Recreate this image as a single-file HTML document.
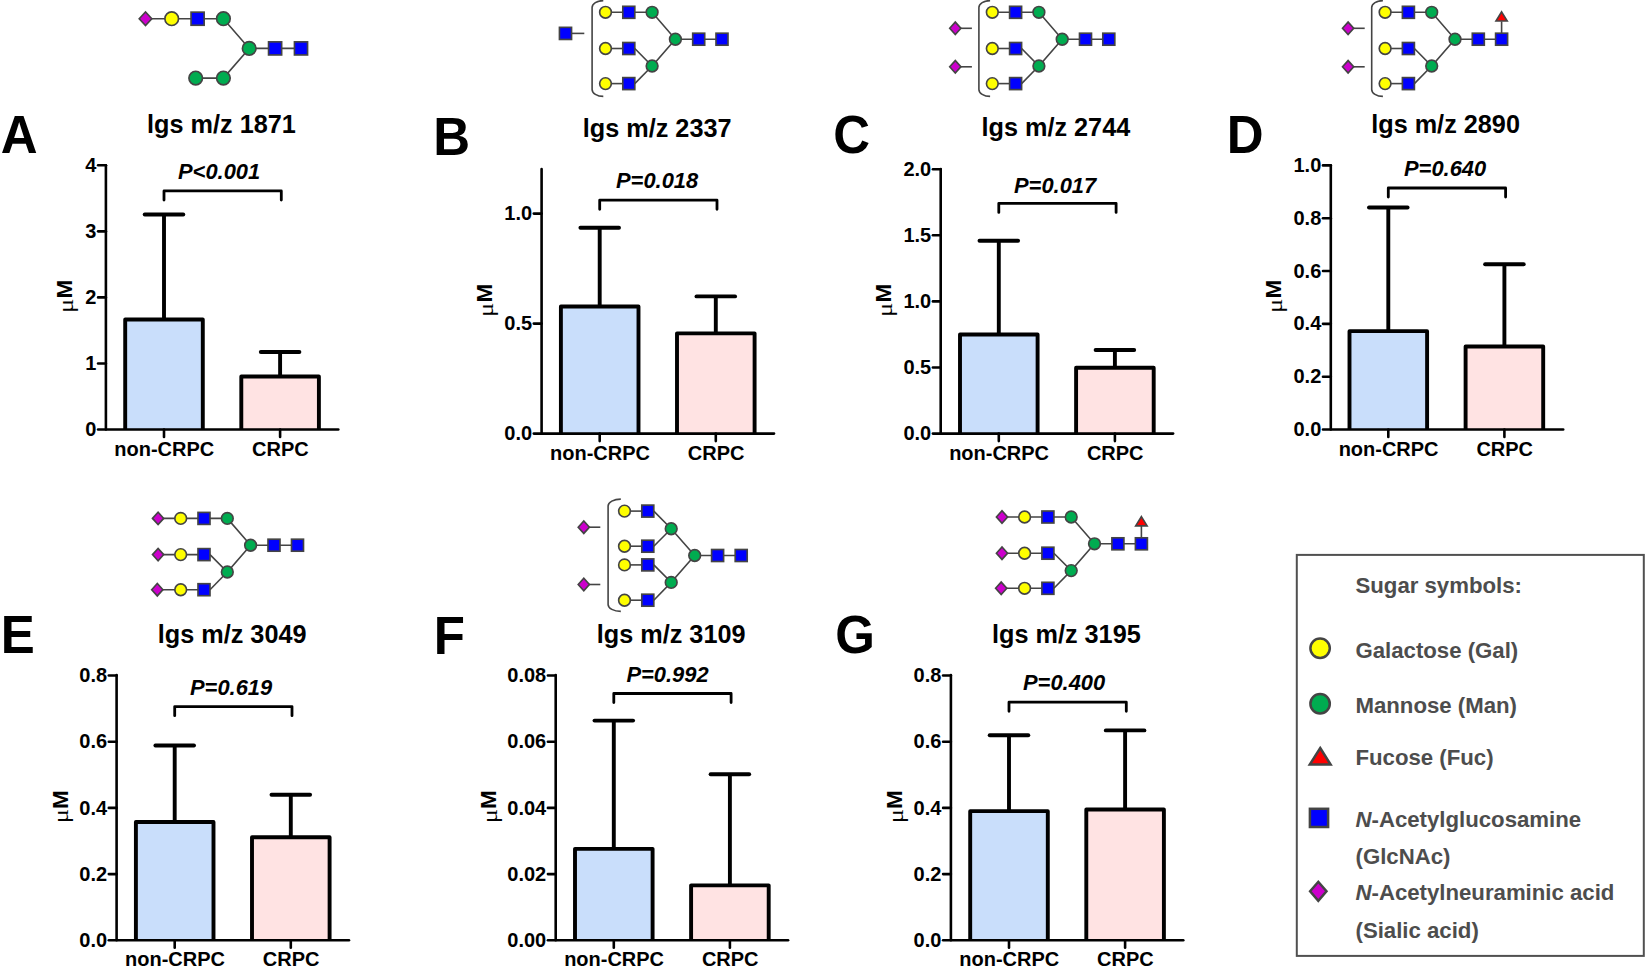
<!DOCTYPE html>
<html lang="en"><head><meta charset="utf-8"><title>Figure</title>
<style>html,body{margin:0;padding:0;background:#fff;}body{width:1645px;height:967px;overflow:hidden;}svg{display:block;}</style>
</head><body>
<svg width="1645" height="967" viewBox="0 0 1645 967" font-family="'Liberation Sans', Arial, Helvetica, sans-serif">
<rect x="0" y="0" width="1645" height="967" fill="#fff"/>
<path d="M145.50 18.70L223.40 18.70L249.20 48.40L301.00 48.40" fill="none" stroke="#444444" stroke-width="1.6"/>
<path d="M195.70 78.10L223.40 78.10L249.20 48.40" fill="none" stroke="#444444" stroke-width="1.6"/>
<path d="M139.20 18.70L145.50 11.90L151.80 18.70L145.50 25.50Z" fill="#CC00CC" stroke="#444444" stroke-width="1.65" stroke-linejoin="miter"/>
<circle cx="171.70" cy="18.70" r="6.80" fill="#FFFF00" stroke="#444444" stroke-width="1.65"/>
<rect x="191.05" y="12.15" width="13.10" height="13.10" fill="#0000FF" stroke="#444444" stroke-width="1.65"/>
<circle cx="223.40" cy="18.70" r="6.80" fill="#00AC50" stroke="#444444" stroke-width="1.65"/>
<circle cx="249.20" cy="48.40" r="6.80" fill="#00AC50" stroke="#444444" stroke-width="1.65"/>
<rect x="268.55" y="41.85" width="13.10" height="13.10" fill="#0000FF" stroke="#444444" stroke-width="1.65"/>
<rect x="294.45" y="41.85" width="13.10" height="13.10" fill="#0000FF" stroke="#444444" stroke-width="1.65"/>
<circle cx="195.70" cy="78.10" r="6.80" fill="#00AC50" stroke="#444444" stroke-width="1.65"/>
<circle cx="223.40" cy="78.10" r="6.80" fill="#00AC50" stroke="#444444" stroke-width="1.65"/>
<path d="M605.50 12.30L652.10 12.30L675.40 39.20L722.00 39.20" fill="none" stroke="#444444" stroke-width="1.6"/>
<path d="M605.50 48.50L628.80 48.50" fill="none" stroke="#444444" stroke-width="1.6"/>
<path d="M634.80 48.50L652.10 66.00L675.40 39.20" fill="none" stroke="#444444" stroke-width="1.6"/>
<path d="M605.50 83.60L628.80 83.60" fill="none" stroke="#444444" stroke-width="1.6"/>
<path d="M634.80 83.60L652.10 66.00" fill="none" stroke="#444444" stroke-width="1.6"/>
<circle cx="605.50" cy="12.30" r="5.85" fill="#FFFF00" stroke="#444444" stroke-width="1.65"/>
<rect x="622.80" y="6.30" width="12.00" height="12.00" fill="#0000FF" stroke="#444444" stroke-width="1.65"/>
<circle cx="605.50" cy="48.50" r="5.85" fill="#FFFF00" stroke="#444444" stroke-width="1.65"/>
<rect x="622.80" y="42.50" width="12.00" height="12.00" fill="#0000FF" stroke="#444444" stroke-width="1.65"/>
<circle cx="605.50" cy="83.60" r="5.85" fill="#FFFF00" stroke="#444444" stroke-width="1.65"/>
<rect x="622.80" y="77.60" width="12.00" height="12.00" fill="#0000FF" stroke="#444444" stroke-width="1.65"/>
<circle cx="652.10" cy="12.30" r="5.85" fill="#00AC50" stroke="#444444" stroke-width="1.65"/>
<circle cx="652.10" cy="66.00" r="5.85" fill="#00AC50" stroke="#444444" stroke-width="1.65"/>
<circle cx="675.40" cy="39.20" r="5.85" fill="#00AC50" stroke="#444444" stroke-width="1.65"/>
<rect x="692.70" y="33.20" width="12.00" height="12.00" fill="#0000FF" stroke="#444444" stroke-width="1.65"/>
<rect x="716.00" y="33.20" width="12.00" height="12.00" fill="#0000FF" stroke="#444444" stroke-width="1.65"/>
<path d="M603.30 0.60C597.11 0.60 592.10 3.73 592.10 7.60L592.10 89.40C592.10 93.27 597.11 96.40 603.30 96.40" fill="none" stroke="#444444" stroke-width="1.6"/>
<line x1="565.50" y1="33.40" x2="584.30" y2="33.40" stroke="#444444" stroke-width="1.6"/>
<rect x="559.45" y="27.35" width="12.10" height="12.10" fill="#0000FF" stroke="#444444" stroke-width="1.65"/>
<path d="M992.30 12.30L1038.90 12.30L1062.20 39.20L1108.80 39.20" fill="none" stroke="#444444" stroke-width="1.6"/>
<path d="M992.30 48.50L1015.60 48.50" fill="none" stroke="#444444" stroke-width="1.6"/>
<path d="M1021.60 48.50L1038.90 66.00L1062.20 39.20" fill="none" stroke="#444444" stroke-width="1.6"/>
<path d="M992.30 83.60L1015.60 83.60" fill="none" stroke="#444444" stroke-width="1.6"/>
<path d="M1021.60 83.60L1038.90 66.00" fill="none" stroke="#444444" stroke-width="1.6"/>
<circle cx="992.30" cy="12.30" r="5.85" fill="#FFFF00" stroke="#444444" stroke-width="1.65"/>
<rect x="1009.60" y="6.30" width="12.00" height="12.00" fill="#0000FF" stroke="#444444" stroke-width="1.65"/>
<circle cx="992.30" cy="48.50" r="5.85" fill="#FFFF00" stroke="#444444" stroke-width="1.65"/>
<rect x="1009.60" y="42.50" width="12.00" height="12.00" fill="#0000FF" stroke="#444444" stroke-width="1.65"/>
<circle cx="992.30" cy="83.60" r="5.85" fill="#FFFF00" stroke="#444444" stroke-width="1.65"/>
<rect x="1009.60" y="77.60" width="12.00" height="12.00" fill="#0000FF" stroke="#444444" stroke-width="1.65"/>
<circle cx="1038.90" cy="12.30" r="5.85" fill="#00AC50" stroke="#444444" stroke-width="1.65"/>
<circle cx="1038.90" cy="66.00" r="5.85" fill="#00AC50" stroke="#444444" stroke-width="1.65"/>
<circle cx="1062.20" cy="39.20" r="5.85" fill="#00AC50" stroke="#444444" stroke-width="1.65"/>
<rect x="1079.50" y="33.20" width="12.00" height="12.00" fill="#0000FF" stroke="#444444" stroke-width="1.65"/>
<rect x="1102.80" y="33.20" width="12.00" height="12.00" fill="#0000FF" stroke="#444444" stroke-width="1.65"/>
<path d="M990.10 0.60C983.91 0.60 978.90 3.73 978.90 7.60L978.90 89.40C978.90 93.27 983.91 96.40 990.10 96.40" fill="none" stroke="#444444" stroke-width="1.6"/>
<line x1="955.30" y1="28.30" x2="971.90" y2="28.30" stroke="#444444" stroke-width="1.6"/>
<path d="M949.70 28.30L955.30 22.10L960.90 28.30L955.30 34.50Z" fill="#CC00CC" stroke="#444444" stroke-width="1.65" stroke-linejoin="miter"/>
<line x1="955.30" y1="66.80" x2="971.90" y2="66.80" stroke="#444444" stroke-width="1.6"/>
<path d="M949.70 66.80L955.30 60.60L960.90 66.80L955.30 73.00Z" fill="#CC00CC" stroke="#444444" stroke-width="1.65" stroke-linejoin="miter"/>
<path d="M1385.10 12.30L1431.70 12.30L1455.00 39.20L1501.60 39.20" fill="none" stroke="#444444" stroke-width="1.6"/>
<path d="M1385.10 48.50L1408.40 48.50" fill="none" stroke="#444444" stroke-width="1.6"/>
<path d="M1414.40 48.50L1431.70 66.00L1455.00 39.20" fill="none" stroke="#444444" stroke-width="1.6"/>
<path d="M1385.10 83.60L1408.40 83.60" fill="none" stroke="#444444" stroke-width="1.6"/>
<path d="M1414.40 83.60L1431.70 66.00" fill="none" stroke="#444444" stroke-width="1.6"/>
<line x1="1501.60" y1="39.20" x2="1501.60" y2="21.40" stroke="#444444" stroke-width="1.6"/>
<path d="M1501.60 11.90L1507.20 21.00L1496.00 21.00Z" fill="#FF0000" stroke="#444444" stroke-width="1.65" stroke-linejoin="miter"/>
<circle cx="1385.10" cy="12.30" r="5.85" fill="#FFFF00" stroke="#444444" stroke-width="1.65"/>
<rect x="1402.40" y="6.30" width="12.00" height="12.00" fill="#0000FF" stroke="#444444" stroke-width="1.65"/>
<circle cx="1385.10" cy="48.50" r="5.85" fill="#FFFF00" stroke="#444444" stroke-width="1.65"/>
<rect x="1402.40" y="42.50" width="12.00" height="12.00" fill="#0000FF" stroke="#444444" stroke-width="1.65"/>
<circle cx="1385.10" cy="83.60" r="5.85" fill="#FFFF00" stroke="#444444" stroke-width="1.65"/>
<rect x="1402.40" y="77.60" width="12.00" height="12.00" fill="#0000FF" stroke="#444444" stroke-width="1.65"/>
<circle cx="1431.70" cy="12.30" r="5.85" fill="#00AC50" stroke="#444444" stroke-width="1.65"/>
<circle cx="1431.70" cy="66.00" r="5.85" fill="#00AC50" stroke="#444444" stroke-width="1.65"/>
<circle cx="1455.00" cy="39.20" r="5.85" fill="#00AC50" stroke="#444444" stroke-width="1.65"/>
<rect x="1472.30" y="33.20" width="12.00" height="12.00" fill="#0000FF" stroke="#444444" stroke-width="1.65"/>
<rect x="1495.60" y="33.20" width="12.00" height="12.00" fill="#0000FF" stroke="#444444" stroke-width="1.65"/>
<path d="M1382.90 0.60C1376.71 0.60 1371.70 3.73 1371.70 7.60L1371.70 89.40C1371.70 93.27 1376.71 96.40 1382.90 96.40" fill="none" stroke="#444444" stroke-width="1.6"/>
<line x1="1348.10" y1="28.30" x2="1364.70" y2="28.30" stroke="#444444" stroke-width="1.6"/>
<path d="M1342.50 28.30L1348.10 22.10L1353.70 28.30L1348.10 34.50Z" fill="#CC00CC" stroke="#444444" stroke-width="1.65" stroke-linejoin="miter"/>
<line x1="1348.10" y1="66.80" x2="1364.70" y2="66.80" stroke="#444444" stroke-width="1.6"/>
<path d="M1342.50 66.80L1348.10 60.60L1353.70 66.80L1348.10 73.00Z" fill="#CC00CC" stroke="#444444" stroke-width="1.65" stroke-linejoin="miter"/>
<path d="M158.10 518.40L227.30 518.40L250.60 545.20L297.50 545.20" fill="none" stroke="#444444" stroke-width="1.6"/>
<path d="M158.10 554.60L204.00 554.60" fill="none" stroke="#444444" stroke-width="1.6"/>
<path d="M210.00 554.60L227.30 572.00L250.60 545.20" fill="none" stroke="#444444" stroke-width="1.6"/>
<path d="M157.30 589.70L204.00 589.70" fill="none" stroke="#444444" stroke-width="1.6"/>
<path d="M210.00 589.70L227.30 572.00" fill="none" stroke="#444444" stroke-width="1.6"/>
<path d="M152.50 518.40L158.10 512.20L163.70 518.40L158.10 524.60Z" fill="#CC00CC" stroke="#444444" stroke-width="1.65" stroke-linejoin="miter"/>
<circle cx="180.70" cy="518.40" r="5.85" fill="#FFFF00" stroke="#444444" stroke-width="1.65"/>
<rect x="198.00" y="512.40" width="12.00" height="12.00" fill="#0000FF" stroke="#444444" stroke-width="1.65"/>
<path d="M152.50 554.60L158.10 548.40L163.70 554.60L158.10 560.80Z" fill="#CC00CC" stroke="#444444" stroke-width="1.65" stroke-linejoin="miter"/>
<circle cx="180.70" cy="554.60" r="5.85" fill="#FFFF00" stroke="#444444" stroke-width="1.65"/>
<rect x="198.00" y="548.60" width="12.00" height="12.00" fill="#0000FF" stroke="#444444" stroke-width="1.65"/>
<path d="M151.70 589.70L157.30 583.50L162.90 589.70L157.30 595.90Z" fill="#CC00CC" stroke="#444444" stroke-width="1.65" stroke-linejoin="miter"/>
<circle cx="180.70" cy="589.70" r="5.85" fill="#FFFF00" stroke="#444444" stroke-width="1.65"/>
<rect x="198.00" y="583.70" width="12.00" height="12.00" fill="#0000FF" stroke="#444444" stroke-width="1.65"/>
<circle cx="227.30" cy="518.40" r="5.85" fill="#00AC50" stroke="#444444" stroke-width="1.65"/>
<circle cx="227.30" cy="572.00" r="5.85" fill="#00AC50" stroke="#444444" stroke-width="1.65"/>
<circle cx="250.60" cy="545.20" r="5.85" fill="#00AC50" stroke="#444444" stroke-width="1.65"/>
<rect x="268.00" y="539.20" width="12.00" height="12.00" fill="#0000FF" stroke="#444444" stroke-width="1.65"/>
<rect x="291.50" y="539.20" width="12.00" height="12.00" fill="#0000FF" stroke="#444444" stroke-width="1.65"/>
<path d="M624.50 511.10L647.80 511.10" fill="none" stroke="#444444" stroke-width="1.6"/>
<path d="M653.80 511.10L671.20 528.70L694.70 555.50L741.20 555.50" fill="none" stroke="#444444" stroke-width="1.6"/>
<path d="M624.50 546.20L647.80 546.20" fill="none" stroke="#444444" stroke-width="1.6"/>
<path d="M653.80 546.20L671.20 528.70" fill="none" stroke="#444444" stroke-width="1.6"/>
<path d="M624.50 564.90L647.80 564.90" fill="none" stroke="#444444" stroke-width="1.6"/>
<path d="M653.80 564.90L671.20 582.40L694.70 555.50" fill="none" stroke="#444444" stroke-width="1.6"/>
<path d="M624.50 600.20L647.80 600.20" fill="none" stroke="#444444" stroke-width="1.6"/>
<path d="M653.80 600.20L671.20 582.40" fill="none" stroke="#444444" stroke-width="1.6"/>
<circle cx="624.50" cy="511.10" r="5.85" fill="#FFFF00" stroke="#444444" stroke-width="1.65"/>
<rect x="641.80" y="505.10" width="12.00" height="12.00" fill="#0000FF" stroke="#444444" stroke-width="1.65"/>
<circle cx="624.50" cy="546.20" r="5.85" fill="#FFFF00" stroke="#444444" stroke-width="1.65"/>
<rect x="641.80" y="540.20" width="12.00" height="12.00" fill="#0000FF" stroke="#444444" stroke-width="1.65"/>
<circle cx="624.50" cy="564.90" r="5.85" fill="#FFFF00" stroke="#444444" stroke-width="1.65"/>
<rect x="641.80" y="558.90" width="12.00" height="12.00" fill="#0000FF" stroke="#444444" stroke-width="1.65"/>
<circle cx="624.50" cy="600.20" r="5.85" fill="#FFFF00" stroke="#444444" stroke-width="1.65"/>
<rect x="641.80" y="594.20" width="12.00" height="12.00" fill="#0000FF" stroke="#444444" stroke-width="1.65"/>
<circle cx="671.20" cy="528.70" r="5.85" fill="#00AC50" stroke="#444444" stroke-width="1.65"/>
<circle cx="671.20" cy="582.40" r="5.85" fill="#00AC50" stroke="#444444" stroke-width="1.65"/>
<circle cx="694.70" cy="555.50" r="5.85" fill="#00AC50" stroke="#444444" stroke-width="1.65"/>
<rect x="711.60" y="549.50" width="12.00" height="12.00" fill="#0000FF" stroke="#444444" stroke-width="1.65"/>
<rect x="735.20" y="549.50" width="12.00" height="12.00" fill="#0000FF" stroke="#444444" stroke-width="1.65"/>
<path d="M620.80 499.10C613.79 499.10 608.10 502.23 608.10 506.10L608.10 604.40C608.10 608.27 613.79 611.40 620.80 611.40" fill="none" stroke="#444444" stroke-width="1.6"/>
<line x1="583.80" y1="527.20" x2="600.30" y2="527.20" stroke="#444444" stroke-width="1.6"/>
<path d="M578.20 527.20L583.80 521.00L589.40 527.20L583.80 533.40Z" fill="#CC00CC" stroke="#444444" stroke-width="1.65" stroke-linejoin="miter"/>
<line x1="583.80" y1="584.50" x2="600.30" y2="584.50" stroke="#444444" stroke-width="1.6"/>
<path d="M578.20 584.50L583.80 578.30L589.40 584.50L583.80 590.70Z" fill="#CC00CC" stroke="#444444" stroke-width="1.65" stroke-linejoin="miter"/>
<path d="M1002.00 517.00L1071.20 517.00L1094.50 543.80L1141.40 543.80" fill="none" stroke="#444444" stroke-width="1.6"/>
<path d="M1002.00 553.20L1047.90 553.20" fill="none" stroke="#444444" stroke-width="1.6"/>
<path d="M1053.90 553.20L1071.20 570.60L1094.50 543.80" fill="none" stroke="#444444" stroke-width="1.6"/>
<path d="M1001.20 588.30L1047.90 588.30" fill="none" stroke="#444444" stroke-width="1.6"/>
<path d="M1053.90 588.30L1071.20 570.60" fill="none" stroke="#444444" stroke-width="1.6"/>
<line x1="1141.40" y1="543.80" x2="1141.40" y2="525.80" stroke="#444444" stroke-width="1.6"/>
<path d="M1141.40 516.60L1147.10 525.80L1135.70 525.80Z" fill="#FF0000" stroke="#444444" stroke-width="1.65" stroke-linejoin="miter"/>
<path d="M996.40 517.00L1002.00 510.80L1007.60 517.00L1002.00 523.20Z" fill="#CC00CC" stroke="#444444" stroke-width="1.65" stroke-linejoin="miter"/>
<circle cx="1024.60" cy="517.00" r="5.85" fill="#FFFF00" stroke="#444444" stroke-width="1.65"/>
<rect x="1041.90" y="511.00" width="12.00" height="12.00" fill="#0000FF" stroke="#444444" stroke-width="1.65"/>
<path d="M996.40 553.20L1002.00 547.00L1007.60 553.20L1002.00 559.40Z" fill="#CC00CC" stroke="#444444" stroke-width="1.65" stroke-linejoin="miter"/>
<circle cx="1024.60" cy="553.20" r="5.85" fill="#FFFF00" stroke="#444444" stroke-width="1.65"/>
<rect x="1041.90" y="547.20" width="12.00" height="12.00" fill="#0000FF" stroke="#444444" stroke-width="1.65"/>
<path d="M995.60 588.30L1001.20 582.10L1006.80 588.30L1001.20 594.50Z" fill="#CC00CC" stroke="#444444" stroke-width="1.65" stroke-linejoin="miter"/>
<circle cx="1024.60" cy="588.30" r="5.85" fill="#FFFF00" stroke="#444444" stroke-width="1.65"/>
<rect x="1041.90" y="582.30" width="12.00" height="12.00" fill="#0000FF" stroke="#444444" stroke-width="1.65"/>
<circle cx="1071.20" cy="517.00" r="5.85" fill="#00AC50" stroke="#444444" stroke-width="1.65"/>
<circle cx="1071.20" cy="570.60" r="5.85" fill="#00AC50" stroke="#444444" stroke-width="1.65"/>
<circle cx="1094.50" cy="543.80" r="5.85" fill="#00AC50" stroke="#444444" stroke-width="1.65"/>
<rect x="1111.90" y="537.80" width="12.00" height="12.00" fill="#0000FF" stroke="#444444" stroke-width="1.65"/>
<rect x="1135.40" y="537.80" width="12.00" height="12.00" fill="#0000FF" stroke="#444444" stroke-width="1.65"/>
<rect x="125.20" y="319.55" width="77.60" height="109.95" fill="#C9DEFB"/>
<path d="M125.20 429.50L125.20 319.55L202.80 319.55L202.80 429.50" fill="none" stroke="#000" stroke-width="3.9" stroke-linejoin="round"/>
<line x1="164.00" y1="214.50" x2="164.00" y2="319.55" stroke="#000" stroke-width="3.9"/>
<line x1="144.70" y1="214.50" x2="183.30" y2="214.50" stroke="#000" stroke-width="3.9" stroke-linecap="round"/>
<line x1="164.00" y1="429.50" x2="164.00" y2="437.00" stroke="#000" stroke-width="2.6" stroke-linecap="round"/>
<text transform="translate(164.30 455.50) scale(1 1.04)" font-size="20" font-weight="bold" text-anchor="middle" fill="#000" >non-CRPC</text>
<rect x="241.30" y="376.45" width="77.60" height="53.05" fill="#FFE3E3"/>
<path d="M241.30 429.50L241.30 376.45L318.90 376.45L318.90 429.50" fill="none" stroke="#000" stroke-width="3.9" stroke-linejoin="round"/>
<line x1="280.10" y1="352.00" x2="280.10" y2="376.45" stroke="#000" stroke-width="3.9"/>
<line x1="260.80" y1="352.00" x2="299.40" y2="352.00" stroke="#000" stroke-width="3.9" stroke-linecap="round"/>
<line x1="280.10" y1="429.50" x2="280.10" y2="437.00" stroke="#000" stroke-width="2.6" stroke-linecap="round"/>
<text transform="translate(280.40 455.50) scale(1 1.04)" font-size="20" font-weight="bold" text-anchor="middle" fill="#000" >CRPC</text>
<line x1="105.90" y1="165.30" x2="105.90" y2="429.50" stroke="#000" stroke-width="2.6" stroke-linecap="round"/>
<line x1="98.10" y1="429.50" x2="338.30" y2="429.50" stroke="#000" stroke-width="2.6" stroke-linecap="round"/>
<text transform="translate(96.40 436.10) scale(1 1.04)" font-size="20" font-weight="bold" text-anchor="end" fill="#000" >0</text>
<line x1="98.10" y1="363.45" x2="105.90" y2="363.45" stroke="#000" stroke-width="2.6" stroke-linecap="round"/>
<text transform="translate(96.40 370.05) scale(1 1.04)" font-size="20" font-weight="bold" text-anchor="end" fill="#000" >1</text>
<line x1="98.10" y1="297.40" x2="105.90" y2="297.40" stroke="#000" stroke-width="2.6" stroke-linecap="round"/>
<text transform="translate(96.40 304.00) scale(1 1.04)" font-size="20" font-weight="bold" text-anchor="end" fill="#000" >2</text>
<line x1="98.10" y1="231.35" x2="105.90" y2="231.35" stroke="#000" stroke-width="2.6" stroke-linecap="round"/>
<text transform="translate(96.40 237.95) scale(1 1.04)" font-size="20" font-weight="bold" text-anchor="end" fill="#000" >3</text>
<line x1="98.10" y1="165.30" x2="105.90" y2="165.30" stroke="#000" stroke-width="2.6" stroke-linecap="round"/>
<text transform="translate(96.40 171.90) scale(1 1.04)" font-size="20" font-weight="bold" text-anchor="end" fill="#000" >4</text>
<text transform="translate(72.20 298.60) rotate(-90) scale(1 1.005)" text-anchor="start" font-size="22.5" font-weight="bold">M</text>
<text transform="translate(72.80 298.80) rotate(-90) scale(1.18 0.96)" text-anchor="end" font-size="22.5" font-family="Liberation Serif, DejaVu Serif, serif" font-weight="normal">μ</text>
<text transform="translate(178.00 179.20) scale(1 1.04)" font-size="21.9" font-weight="bold" font-style="italic" text-anchor="start" fill="#000" >P&lt;0.001</text>
<path d="M164.00 200.00L164.00 190.90L281.30 190.90L281.30 200.00" fill="none" stroke="#000" stroke-width="2.8" stroke-linecap="round" stroke-linejoin="round"/>
<text transform="translate(147.10 132.90) scale(1 1.04)" font-size="25.25" font-weight="bold" text-anchor="start" fill="#000" >lgs m/z 1871</text>
<text transform="translate(0.80 153.20) scale(1 1.04)" font-size="51" font-weight="bold" text-anchor="start" fill="#000" >A</text>
<rect x="560.90" y="306.45" width="77.60" height="127.15" fill="#C9DEFB"/>
<path d="M560.90 433.60L560.90 306.45L638.50 306.45L638.50 433.60" fill="none" stroke="#000" stroke-width="3.9" stroke-linejoin="round"/>
<line x1="599.70" y1="227.80" x2="599.70" y2="306.45" stroke="#000" stroke-width="3.9"/>
<line x1="580.40" y1="227.80" x2="619.00" y2="227.80" stroke="#000" stroke-width="3.9" stroke-linecap="round"/>
<line x1="599.70" y1="433.60" x2="599.70" y2="441.10" stroke="#000" stroke-width="2.6" stroke-linecap="round"/>
<text transform="translate(600.00 459.60) scale(1 1.04)" font-size="20" font-weight="bold" text-anchor="middle" fill="#000" >non-CRPC</text>
<rect x="677.00" y="333.35" width="77.60" height="100.25" fill="#FFE3E3"/>
<path d="M677.00 433.60L677.00 333.35L754.60 333.35L754.60 433.60" fill="none" stroke="#000" stroke-width="3.9" stroke-linejoin="round"/>
<line x1="715.80" y1="296.40" x2="715.80" y2="333.35" stroke="#000" stroke-width="3.9"/>
<line x1="696.50" y1="296.40" x2="735.10" y2="296.40" stroke="#000" stroke-width="3.9" stroke-linecap="round"/>
<line x1="715.80" y1="433.60" x2="715.80" y2="441.10" stroke="#000" stroke-width="2.6" stroke-linecap="round"/>
<text transform="translate(716.10 459.60) scale(1 1.04)" font-size="20" font-weight="bold" text-anchor="middle" fill="#000" >CRPC</text>
<line x1="541.60" y1="169.00" x2="541.60" y2="433.60" stroke="#000" stroke-width="2.6" stroke-linecap="round"/>
<line x1="533.80" y1="433.60" x2="774.00" y2="433.60" stroke="#000" stroke-width="2.6" stroke-linecap="round"/>
<text transform="translate(532.10 440.20) scale(1 1.04)" font-size="20" font-weight="bold" text-anchor="end" fill="#000" >0.0</text>
<line x1="533.80" y1="323.60" x2="541.60" y2="323.60" stroke="#000" stroke-width="2.6" stroke-linecap="round"/>
<text transform="translate(532.10 330.20) scale(1 1.04)" font-size="20" font-weight="bold" text-anchor="end" fill="#000" >0.5</text>
<line x1="533.80" y1="213.60" x2="541.60" y2="213.60" stroke="#000" stroke-width="2.6" stroke-linecap="round"/>
<text transform="translate(532.10 220.20) scale(1 1.04)" font-size="20" font-weight="bold" text-anchor="end" fill="#000" >1.0</text>
<text transform="translate(492.00 302.50) rotate(-90) scale(1 1.005)" text-anchor="start" font-size="22.5" font-weight="bold">M</text>
<text transform="translate(492.60 302.70) rotate(-90) scale(1.18 0.96)" text-anchor="end" font-size="22.5" font-family="Liberation Serif, DejaVu Serif, serif" font-weight="normal">μ</text>
<text transform="translate(616.00 188.30) scale(1 1.04)" font-size="21.9" font-weight="bold" font-style="italic" text-anchor="start" fill="#000" >P=0.018</text>
<path d="M599.70 209.30L599.70 200.20L717.00 200.20L717.00 209.30" fill="none" stroke="#000" stroke-width="2.8" stroke-linecap="round" stroke-linejoin="round"/>
<text transform="translate(582.80 136.90) scale(1 1.04)" font-size="25.25" font-weight="bold" text-anchor="start" fill="#000" >lgs m/z 2337</text>
<text transform="translate(433.30 154.70) scale(1 1.04)" font-size="51" font-weight="bold" text-anchor="start" fill="#000" >B</text>
<rect x="960.00" y="334.45" width="77.60" height="99.15" fill="#C9DEFB"/>
<path d="M960.00 433.60L960.00 334.45L1037.60 334.45L1037.60 433.60" fill="none" stroke="#000" stroke-width="3.9" stroke-linejoin="round"/>
<line x1="998.80" y1="240.70" x2="998.80" y2="334.45" stroke="#000" stroke-width="3.9"/>
<line x1="979.50" y1="240.70" x2="1018.10" y2="240.70" stroke="#000" stroke-width="3.9" stroke-linecap="round"/>
<line x1="998.80" y1="433.60" x2="998.80" y2="441.10" stroke="#000" stroke-width="2.6" stroke-linecap="round"/>
<text transform="translate(999.10 459.60) scale(1 1.04)" font-size="20" font-weight="bold" text-anchor="middle" fill="#000" >non-CRPC</text>
<rect x="1076.10" y="367.75" width="77.60" height="65.85" fill="#FFE3E3"/>
<path d="M1076.10 433.60L1076.10 367.75L1153.70 367.75L1153.70 433.60" fill="none" stroke="#000" stroke-width="3.9" stroke-linejoin="round"/>
<line x1="1114.90" y1="350.00" x2="1114.90" y2="367.75" stroke="#000" stroke-width="3.9"/>
<line x1="1095.60" y1="350.00" x2="1134.20" y2="350.00" stroke="#000" stroke-width="3.9" stroke-linecap="round"/>
<line x1="1114.90" y1="433.60" x2="1114.90" y2="441.10" stroke="#000" stroke-width="2.6" stroke-linecap="round"/>
<text transform="translate(1115.20 459.60) scale(1 1.04)" font-size="20" font-weight="bold" text-anchor="middle" fill="#000" >CRPC</text>
<line x1="940.70" y1="169.00" x2="940.70" y2="433.60" stroke="#000" stroke-width="2.6" stroke-linecap="round"/>
<line x1="932.90" y1="433.60" x2="1173.10" y2="433.60" stroke="#000" stroke-width="2.6" stroke-linecap="round"/>
<text transform="translate(931.20 440.20) scale(1 1.04)" font-size="20" font-weight="bold" text-anchor="end" fill="#000" >0.0</text>
<line x1="932.90" y1="367.50" x2="940.70" y2="367.50" stroke="#000" stroke-width="2.6" stroke-linecap="round"/>
<text transform="translate(931.20 374.10) scale(1 1.04)" font-size="20" font-weight="bold" text-anchor="end" fill="#000" >0.5</text>
<line x1="932.90" y1="301.40" x2="940.70" y2="301.40" stroke="#000" stroke-width="2.6" stroke-linecap="round"/>
<text transform="translate(931.20 308.00) scale(1 1.04)" font-size="20" font-weight="bold" text-anchor="end" fill="#000" >1.0</text>
<line x1="932.90" y1="235.30" x2="940.70" y2="235.30" stroke="#000" stroke-width="2.6" stroke-linecap="round"/>
<text transform="translate(931.20 241.90) scale(1 1.04)" font-size="20" font-weight="bold" text-anchor="end" fill="#000" >1.5</text>
<line x1="932.90" y1="169.20" x2="940.70" y2="169.20" stroke="#000" stroke-width="2.6" stroke-linecap="round"/>
<text transform="translate(931.20 175.80) scale(1 1.04)" font-size="20" font-weight="bold" text-anchor="end" fill="#000" >2.0</text>
<text transform="translate(891.00 302.50) rotate(-90) scale(1 1.005)" text-anchor="start" font-size="22.5" font-weight="bold">M</text>
<text transform="translate(891.60 302.70) rotate(-90) scale(1.18 0.96)" text-anchor="end" font-size="22.5" font-family="Liberation Serif, DejaVu Serif, serif" font-weight="normal">μ</text>
<text transform="translate(1014.00 192.70) scale(1 1.04)" font-size="21.9" font-weight="bold" font-style="italic" text-anchor="start" fill="#000" >P=0.017</text>
<path d="M998.80 212.40L998.80 203.30L1116.10 203.30L1116.10 212.40" fill="none" stroke="#000" stroke-width="2.8" stroke-linecap="round" stroke-linejoin="round"/>
<text transform="translate(981.50 136.20) scale(1 1.04)" font-size="25.25" font-weight="bold" text-anchor="start" fill="#000" >lgs m/z 2744</text>
<text transform="translate(833.30 152.50) scale(1 1.04)" font-size="51" font-weight="bold" text-anchor="start" fill="#000" >C</text>
<rect x="1349.50" y="331.15" width="77.60" height="98.35" fill="#C9DEFB"/>
<path d="M1349.50 429.50L1349.50 331.15L1427.10 331.15L1427.10 429.50" fill="none" stroke="#000" stroke-width="3.9" stroke-linejoin="round"/>
<line x1="1388.30" y1="207.50" x2="1388.30" y2="331.15" stroke="#000" stroke-width="3.9"/>
<line x1="1369.00" y1="207.50" x2="1407.60" y2="207.50" stroke="#000" stroke-width="3.9" stroke-linecap="round"/>
<line x1="1388.30" y1="429.50" x2="1388.30" y2="437.00" stroke="#000" stroke-width="2.6" stroke-linecap="round"/>
<text transform="translate(1388.60 455.50) scale(1 1.04)" font-size="20" font-weight="bold" text-anchor="middle" fill="#000" >non-CRPC</text>
<rect x="1465.60" y="346.55" width="77.60" height="82.95" fill="#FFE3E3"/>
<path d="M1465.60 429.50L1465.60 346.55L1543.20 346.55L1543.20 429.50" fill="none" stroke="#000" stroke-width="3.9" stroke-linejoin="round"/>
<line x1="1504.40" y1="264.20" x2="1504.40" y2="346.55" stroke="#000" stroke-width="3.9"/>
<line x1="1485.10" y1="264.20" x2="1523.70" y2="264.20" stroke="#000" stroke-width="3.9" stroke-linecap="round"/>
<line x1="1504.40" y1="429.50" x2="1504.40" y2="437.00" stroke="#000" stroke-width="2.6" stroke-linecap="round"/>
<text transform="translate(1504.70 455.50) scale(1 1.04)" font-size="20" font-weight="bold" text-anchor="middle" fill="#000" >CRPC</text>
<line x1="1330.80" y1="165.30" x2="1330.80" y2="429.50" stroke="#000" stroke-width="2.6" stroke-linecap="round"/>
<line x1="1323.00" y1="429.50" x2="1563.20" y2="429.50" stroke="#000" stroke-width="2.6" stroke-linecap="round"/>
<text transform="translate(1321.30 436.10) scale(1 1.04)" font-size="20" font-weight="bold" text-anchor="end" fill="#000" >0.0</text>
<line x1="1323.00" y1="376.68" x2="1330.80" y2="376.68" stroke="#000" stroke-width="2.6" stroke-linecap="round"/>
<text transform="translate(1321.30 383.28) scale(1 1.04)" font-size="20" font-weight="bold" text-anchor="end" fill="#000" >0.2</text>
<line x1="1323.00" y1="323.86" x2="1330.80" y2="323.86" stroke="#000" stroke-width="2.6" stroke-linecap="round"/>
<text transform="translate(1321.30 330.46) scale(1 1.04)" font-size="20" font-weight="bold" text-anchor="end" fill="#000" >0.4</text>
<line x1="1323.00" y1="271.04" x2="1330.80" y2="271.04" stroke="#000" stroke-width="2.6" stroke-linecap="round"/>
<text transform="translate(1321.30 277.64) scale(1 1.04)" font-size="20" font-weight="bold" text-anchor="end" fill="#000" >0.6</text>
<line x1="1323.00" y1="218.22" x2="1330.80" y2="218.22" stroke="#000" stroke-width="2.6" stroke-linecap="round"/>
<text transform="translate(1321.30 224.82) scale(1 1.04)" font-size="20" font-weight="bold" text-anchor="end" fill="#000" >0.8</text>
<line x1="1323.00" y1="165.40" x2="1330.80" y2="165.40" stroke="#000" stroke-width="2.6" stroke-linecap="round"/>
<text transform="translate(1321.30 172.00) scale(1 1.04)" font-size="20" font-weight="bold" text-anchor="end" fill="#000" >1.0</text>
<text transform="translate(1281.00 298.60) rotate(-90) scale(1 1.005)" text-anchor="start" font-size="22.5" font-weight="bold">M</text>
<text transform="translate(1281.60 298.80) rotate(-90) scale(1.18 0.96)" text-anchor="end" font-size="22.5" font-family="Liberation Serif, DejaVu Serif, serif" font-weight="normal">μ</text>
<text transform="translate(1404.00 176.30) scale(1 1.04)" font-size="21.9" font-weight="bold" font-style="italic" text-anchor="start" fill="#000" >P=0.640</text>
<path d="M1388.30 197.10L1388.30 188.00L1505.60 188.00L1505.60 197.10" fill="none" stroke="#000" stroke-width="2.8" stroke-linecap="round" stroke-linejoin="round"/>
<text transform="translate(1371.20 132.50) scale(1 1.04)" font-size="25.25" font-weight="bold" text-anchor="start" fill="#000" >lgs m/z 2890</text>
<text transform="translate(1226.80 153.00) scale(1 1.04)" font-size="51" font-weight="bold" text-anchor="start" fill="#000" >D</text>
<rect x="135.90" y="821.95" width="77.60" height="118.35" fill="#C9DEFB"/>
<path d="M135.90 940.30L135.90 821.95L213.50 821.95L213.50 940.30" fill="none" stroke="#000" stroke-width="3.9" stroke-linejoin="round"/>
<line x1="174.70" y1="745.50" x2="174.70" y2="821.95" stroke="#000" stroke-width="3.9"/>
<line x1="155.40" y1="745.50" x2="194.00" y2="745.50" stroke="#000" stroke-width="3.9" stroke-linecap="round"/>
<line x1="174.70" y1="940.30" x2="174.70" y2="947.80" stroke="#000" stroke-width="2.6" stroke-linecap="round"/>
<text transform="translate(175.00 966.30) scale(1 1.04)" font-size="20" font-weight="bold" text-anchor="middle" fill="#000" >non-CRPC</text>
<rect x="252.00" y="837.25" width="77.60" height="103.05" fill="#FFE3E3"/>
<path d="M252.00 940.30L252.00 837.25L329.60 837.25L329.60 940.30" fill="none" stroke="#000" stroke-width="3.9" stroke-linejoin="round"/>
<line x1="290.80" y1="794.80" x2="290.80" y2="837.25" stroke="#000" stroke-width="3.9"/>
<line x1="271.50" y1="794.80" x2="310.10" y2="794.80" stroke="#000" stroke-width="3.9" stroke-linecap="round"/>
<line x1="290.80" y1="940.30" x2="290.80" y2="947.80" stroke="#000" stroke-width="2.6" stroke-linecap="round"/>
<text transform="translate(291.10 966.30) scale(1 1.04)" font-size="20" font-weight="bold" text-anchor="middle" fill="#000" >CRPC</text>
<line x1="116.60" y1="675.10" x2="116.60" y2="940.30" stroke="#000" stroke-width="2.6" stroke-linecap="round"/>
<line x1="108.80" y1="940.30" x2="349.00" y2="940.30" stroke="#000" stroke-width="2.6" stroke-linecap="round"/>
<text transform="translate(107.10 946.90) scale(1 1.04)" font-size="20" font-weight="bold" text-anchor="end" fill="#000" >0.0</text>
<line x1="108.80" y1="874.10" x2="116.60" y2="874.10" stroke="#000" stroke-width="2.6" stroke-linecap="round"/>
<text transform="translate(107.10 880.70) scale(1 1.04)" font-size="20" font-weight="bold" text-anchor="end" fill="#000" >0.2</text>
<line x1="108.80" y1="807.90" x2="116.60" y2="807.90" stroke="#000" stroke-width="2.6" stroke-linecap="round"/>
<text transform="translate(107.10 814.50) scale(1 1.04)" font-size="20" font-weight="bold" text-anchor="end" fill="#000" >0.4</text>
<line x1="108.80" y1="741.70" x2="116.60" y2="741.70" stroke="#000" stroke-width="2.6" stroke-linecap="round"/>
<text transform="translate(107.10 748.30) scale(1 1.04)" font-size="20" font-weight="bold" text-anchor="end" fill="#000" >0.6</text>
<line x1="108.80" y1="675.50" x2="116.60" y2="675.50" stroke="#000" stroke-width="2.6" stroke-linecap="round"/>
<text transform="translate(107.10 682.10) scale(1 1.04)" font-size="20" font-weight="bold" text-anchor="end" fill="#000" >0.8</text>
<text transform="translate(67.50 808.90) rotate(-90) scale(1 1.005)" text-anchor="start" font-size="22.5" font-weight="bold">M</text>
<text transform="translate(68.10 809.10) rotate(-90) scale(1.18 0.96)" text-anchor="end" font-size="22.5" font-family="Liberation Serif, DejaVu Serif, serif" font-weight="normal">μ</text>
<text transform="translate(190.00 694.90) scale(1 1.04)" font-size="21.9" font-weight="bold" font-style="italic" text-anchor="start" fill="#000" >P=0.619</text>
<path d="M174.70 715.70L174.70 706.60L292.00 706.60L292.00 715.70" fill="none" stroke="#000" stroke-width="2.8" stroke-linecap="round" stroke-linejoin="round"/>
<text transform="translate(157.80 643.40) scale(1 1.04)" font-size="25.25" font-weight="bold" text-anchor="start" fill="#000" >lgs m/z 3049</text>
<text transform="translate(0.80 653.20) scale(1 1.04)" font-size="51" font-weight="bold" text-anchor="start" fill="#000" >E</text>
<rect x="575.00" y="848.85" width="77.60" height="91.45" fill="#C9DEFB"/>
<path d="M575.00 940.30L575.00 848.85L652.60 848.85L652.60 940.30" fill="none" stroke="#000" stroke-width="3.9" stroke-linejoin="round"/>
<line x1="613.80" y1="720.60" x2="613.80" y2="848.85" stroke="#000" stroke-width="3.9"/>
<line x1="594.50" y1="720.60" x2="633.10" y2="720.60" stroke="#000" stroke-width="3.9" stroke-linecap="round"/>
<line x1="613.80" y1="940.30" x2="613.80" y2="947.80" stroke="#000" stroke-width="2.6" stroke-linecap="round"/>
<text transform="translate(614.10 966.30) scale(1 1.04)" font-size="20" font-weight="bold" text-anchor="middle" fill="#000" >non-CRPC</text>
<rect x="691.10" y="885.35" width="77.60" height="54.95" fill="#FFE3E3"/>
<path d="M691.10 940.30L691.10 885.35L768.70 885.35L768.70 940.30" fill="none" stroke="#000" stroke-width="3.9" stroke-linejoin="round"/>
<line x1="729.90" y1="774.20" x2="729.90" y2="885.35" stroke="#000" stroke-width="3.9"/>
<line x1="710.60" y1="774.20" x2="749.20" y2="774.20" stroke="#000" stroke-width="3.9" stroke-linecap="round"/>
<line x1="729.90" y1="940.30" x2="729.90" y2="947.80" stroke="#000" stroke-width="2.6" stroke-linecap="round"/>
<text transform="translate(730.20 966.30) scale(1 1.04)" font-size="20" font-weight="bold" text-anchor="middle" fill="#000" >CRPC</text>
<line x1="555.70" y1="675.10" x2="555.70" y2="940.30" stroke="#000" stroke-width="2.6" stroke-linecap="round"/>
<line x1="547.90" y1="940.30" x2="788.10" y2="940.30" stroke="#000" stroke-width="2.6" stroke-linecap="round"/>
<text transform="translate(546.20 946.90) scale(1 1.04)" font-size="20" font-weight="bold" text-anchor="end" fill="#000" >0.00</text>
<line x1="547.90" y1="874.10" x2="555.70" y2="874.10" stroke="#000" stroke-width="2.6" stroke-linecap="round"/>
<text transform="translate(546.20 880.70) scale(1 1.04)" font-size="20" font-weight="bold" text-anchor="end" fill="#000" >0.02</text>
<line x1="547.90" y1="807.90" x2="555.70" y2="807.90" stroke="#000" stroke-width="2.6" stroke-linecap="round"/>
<text transform="translate(546.20 814.50) scale(1 1.04)" font-size="20" font-weight="bold" text-anchor="end" fill="#000" >0.04</text>
<line x1="547.90" y1="741.70" x2="555.70" y2="741.70" stroke="#000" stroke-width="2.6" stroke-linecap="round"/>
<text transform="translate(546.20 748.30) scale(1 1.04)" font-size="20" font-weight="bold" text-anchor="end" fill="#000" >0.06</text>
<line x1="547.90" y1="675.50" x2="555.70" y2="675.50" stroke="#000" stroke-width="2.6" stroke-linecap="round"/>
<text transform="translate(546.20 682.10) scale(1 1.04)" font-size="20" font-weight="bold" text-anchor="end" fill="#000" >0.08</text>
<text transform="translate(496.00 808.90) rotate(-90) scale(1 1.005)" text-anchor="start" font-size="22.5" font-weight="bold">M</text>
<text transform="translate(496.60 809.10) rotate(-90) scale(1.18 0.96)" text-anchor="end" font-size="22.5" font-family="Liberation Serif, DejaVu Serif, serif" font-weight="normal">μ</text>
<text transform="translate(626.40 681.80) scale(1 1.04)" font-size="21.9" font-weight="bold" font-style="italic" text-anchor="start" fill="#000" >P=0.992</text>
<path d="M613.80 702.60L613.80 693.50L731.10 693.50L731.10 702.60" fill="none" stroke="#000" stroke-width="2.8" stroke-linecap="round" stroke-linejoin="round"/>
<text transform="translate(596.80 643.40) scale(1 1.04)" font-size="25.25" font-weight="bold" text-anchor="start" fill="#000" >lgs m/z 3109</text>
<text transform="translate(433.80 654.00) scale(1 1.04)" font-size="51" font-weight="bold" text-anchor="start" fill="#000" >F</text>
<rect x="970.20" y="811.15" width="77.60" height="129.15" fill="#C9DEFB"/>
<path d="M970.20 940.30L970.20 811.15L1047.80 811.15L1047.80 940.30" fill="none" stroke="#000" stroke-width="3.9" stroke-linejoin="round"/>
<line x1="1009.00" y1="735.20" x2="1009.00" y2="811.15" stroke="#000" stroke-width="3.9"/>
<line x1="989.70" y1="735.20" x2="1028.30" y2="735.20" stroke="#000" stroke-width="3.9" stroke-linecap="round"/>
<line x1="1009.00" y1="940.30" x2="1009.00" y2="947.80" stroke="#000" stroke-width="2.6" stroke-linecap="round"/>
<text transform="translate(1009.30 966.30) scale(1 1.04)" font-size="20" font-weight="bold" text-anchor="middle" fill="#000" >non-CRPC</text>
<rect x="1086.30" y="809.45" width="77.60" height="130.85" fill="#FFE3E3"/>
<path d="M1086.30 940.30L1086.30 809.45L1163.90 809.45L1163.90 940.30" fill="none" stroke="#000" stroke-width="3.9" stroke-linejoin="round"/>
<line x1="1125.10" y1="730.40" x2="1125.10" y2="809.45" stroke="#000" stroke-width="3.9"/>
<line x1="1105.80" y1="730.40" x2="1144.40" y2="730.40" stroke="#000" stroke-width="3.9" stroke-linecap="round"/>
<line x1="1125.10" y1="940.30" x2="1125.10" y2="947.80" stroke="#000" stroke-width="2.6" stroke-linecap="round"/>
<text transform="translate(1125.40 966.30) scale(1 1.04)" font-size="20" font-weight="bold" text-anchor="middle" fill="#000" >CRPC</text>
<line x1="950.90" y1="675.10" x2="950.90" y2="940.30" stroke="#000" stroke-width="2.6" stroke-linecap="round"/>
<line x1="943.10" y1="940.30" x2="1183.30" y2="940.30" stroke="#000" stroke-width="2.6" stroke-linecap="round"/>
<text transform="translate(941.40 946.90) scale(1 1.04)" font-size="20" font-weight="bold" text-anchor="end" fill="#000" >0.0</text>
<line x1="943.10" y1="874.10" x2="950.90" y2="874.10" stroke="#000" stroke-width="2.6" stroke-linecap="round"/>
<text transform="translate(941.40 880.70) scale(1 1.04)" font-size="20" font-weight="bold" text-anchor="end" fill="#000" >0.2</text>
<line x1="943.10" y1="807.90" x2="950.90" y2="807.90" stroke="#000" stroke-width="2.6" stroke-linecap="round"/>
<text transform="translate(941.40 814.50) scale(1 1.04)" font-size="20" font-weight="bold" text-anchor="end" fill="#000" >0.4</text>
<line x1="943.10" y1="741.70" x2="950.90" y2="741.70" stroke="#000" stroke-width="2.6" stroke-linecap="round"/>
<text transform="translate(941.40 748.30) scale(1 1.04)" font-size="20" font-weight="bold" text-anchor="end" fill="#000" >0.6</text>
<line x1="943.10" y1="675.50" x2="950.90" y2="675.50" stroke="#000" stroke-width="2.6" stroke-linecap="round"/>
<text transform="translate(941.40 682.10) scale(1 1.04)" font-size="20" font-weight="bold" text-anchor="end" fill="#000" >0.8</text>
<text transform="translate(902.00 808.90) rotate(-90) scale(1 1.005)" text-anchor="start" font-size="22.5" font-weight="bold">M</text>
<text transform="translate(902.60 809.10) rotate(-90) scale(1.18 0.96)" text-anchor="end" font-size="22.5" font-family="Liberation Serif, DejaVu Serif, serif" font-weight="normal">μ</text>
<text transform="translate(1023.00 690.10) scale(1 1.04)" font-size="21.9" font-weight="bold" font-style="italic" text-anchor="start" fill="#000" >P=0.400</text>
<path d="M1009.00 711.30L1009.00 702.20L1126.30 702.20L1126.30 711.30" fill="none" stroke="#000" stroke-width="2.8" stroke-linecap="round" stroke-linejoin="round"/>
<text transform="translate(992.00 643.40) scale(1 1.04)" font-size="25.25" font-weight="bold" text-anchor="start" fill="#000" >lgs m/z 3195</text>
<text transform="translate(835.30 653.20) scale(1 1.04)" font-size="51" font-weight="bold" text-anchor="start" fill="#000" >G</text>
<rect x="1296.8" y="554.9" width="347.0" height="401.0" fill="#fff" stroke="#505050" stroke-width="2.0"/>
<text transform="translate(1355.50 593.30) scale(1 1.03)" font-size="22.2" font-weight="bold" text-anchor="start" fill="#4d4d4d" >Sugar symbols:</text>
<text transform="translate(1355.50 657.50) scale(1 1.03)" font-size="22.2" font-weight="bold" text-anchor="start" fill="#4d4d4d" >Galactose (Gal)</text>
<text transform="translate(1355.50 712.70) scale(1 1.03)" font-size="22.2" font-weight="bold" text-anchor="start" fill="#4d4d4d" >Mannose (Man)</text>
<text transform="translate(1355.50 764.70) scale(1 1.03)" font-size="22.2" font-weight="bold" text-anchor="start" fill="#4d4d4d" >Fucose (Fuc)</text>
<text transform="translate(1355.5 827.4) scale(1 1.03)" font-size="22.2" font-weight="bold" fill="#4d4d4d"><tspan font-style="italic">N</tspan>-Acetylglucosamine</text>
<text transform="translate(1355.50 864.40) scale(1 1.03)" font-size="22.2" font-weight="bold" text-anchor="start" fill="#4d4d4d" >(GlcNAc)</text>
<text transform="translate(1355.5 900.4) scale(1 1.03)" font-size="22.2" font-weight="bold" fill="#4d4d4d"><tspan font-style="italic">N</tspan>-Acetylneuraminic acid</text>
<text transform="translate(1355.50 937.90) scale(1 1.03)" font-size="22.2" font-weight="bold" text-anchor="start" fill="#4d4d4d" >(Sialic acid)</text>
<circle cx="1320.10" cy="648.30" r="9.70" fill="#FFFF00" stroke="#444444" stroke-width="2.5"/>
<circle cx="1320.10" cy="703.70" r="9.70" fill="#00AC50" stroke="#444444" stroke-width="2.5"/>
<path d="M1320.20 748.00L1330.60 764.50L1309.80 764.50Z" fill="#FF0000" stroke="#444444" stroke-width="2.5" stroke-linejoin="miter"/>
<rect x="1309.90" y="808.80" width="18.20" height="18.20" fill="#0000FF" stroke="#444444" stroke-width="2.5"/>
<path d="M1310.10 891.30L1318.30 881.80L1326.50 891.30L1318.30 900.80Z" fill="#CC00CC" stroke="#444444" stroke-width="2.5" stroke-linejoin="miter"/>
</svg></body></html>
